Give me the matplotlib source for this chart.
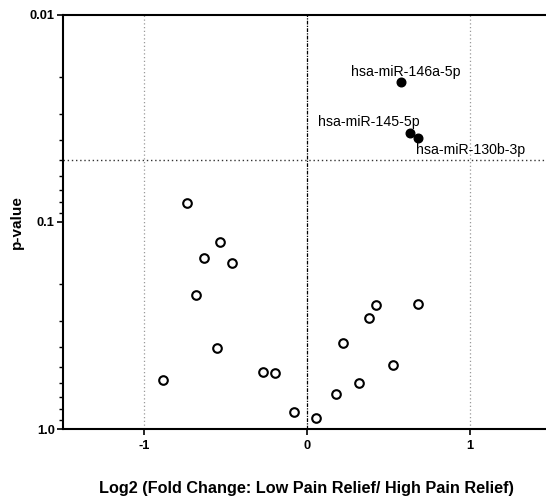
import matplotlib
matplotlib.use('Agg')
from matplotlib import pyplot as plt
from matplotlib.ticker import FixedLocator, NullFormatter
import numpy as np

plt.rcParams['font.family'] = ['Liberation Sans', 'DejaVu Sans']

# significant miRNAs (filled)
sig_names = ['hsa-miR-146a-5p', 'hsa-miR-145-5p', 'hsa-miR-130b-3p']
sig_fc = [0.58, 0.636, 0.685]
sig_p = [0.0211, 0.0372, 0.0394]

# non-significant miRNAs (open)
ns_fc = [-0.738, -0.533, -0.632, -0.460, -0.682, -0.555, -0.886, -0.269, -0.196,
         -0.077, 0.054, 0.176, 0.318, 0.224, 0.383, 0.422, 0.680, 0.531]
ns_p = [0.0812, 0.1256, 0.1496, 0.158, 0.224, 0.406, 0.581, 0.531, 0.535,
        0.830, 0.885, 0.679, 0.598, 0.385, 0.291, 0.253, 0.250, 0.493]

p_cut = 0.05
x_ticks = [-1, 0, 1]
y_ticks = [0.01, 0.1, 1.0]
y_tick_labels = ['0.01', '0.1', '1.0']

fig = plt.figure(figsize=(5.46, 4.99), dpi=100)
W, H = 546, 499
ax = fig.add_axes([63/W, (H-429)/H, (551-63)/W, (429-15)/H])

ax.set_yscale('log')
ax.set_xlim(-1.5, 1.5)
ax.set_ylim(1.0, 0.01)

# reference lines
ax.axvline(-1, color='#999999', lw=0.9, ls=(0, (1, 2)), zorder=1)
ax.axvline(1, color='#999999', lw=0.9, ls=(0, (1, 2)), zorder=1)
ax.axvline(0, color='black', lw=0.9, ls=(0, (3, 1, 1, 1)), zorder=1)
ax.axhline(p_cut, color='#333333', lw=1.0, ls=(0, (1, 2)), zorder=1)

ax.plot(ns_fc, ns_p, 'o', mfc='white', mec='black', mew=1.5, ms=6.2, ls='None', zorder=3)
ax.plot(sig_fc, sig_p, 'o', color='black', ms=6.2, ls='None', zorder=3)

# labels for significant points (offsets in pixels)
label_offsets = [(-50, 10), (-92, 11), (-2, -12)]
for name, fx, pv, off in zip(sig_names, sig_fc, sig_p, label_offsets):
    ax.annotate(name, (fx, pv), xytext=off, textcoords='offset pixels',
                fontsize=10.2, ha='left', va='center')

ax.xaxis.set_major_locator(FixedLocator(x_ticks))
ax.set_xticklabels([str(t) for t in x_ticks], fontweight='bold', fontsize=9.3)
ax.yaxis.set_major_locator(FixedLocator(y_ticks))
ax.set_yticklabels(y_tick_labels, fontweight='bold', fontsize=9.3)
minor = [m * d for d in [0.01, 0.1] for m in range(2, 10)]
ax.yaxis.set_minor_locator(FixedLocator(minor))
ax.yaxis.set_minor_formatter(NullFormatter())

ax.tick_params(axis='both', which='major', length=4, width=1.2, direction='out')
ax.tick_params(axis='y', which='major', pad=2)
ax.tick_params(axis='y', which='minor', length=3, width=1.0)
ax.tick_params(axis='x', which='major', pad=4)

for s in ['left', 'bottom', 'top', 'right']:
    ax.spines[s].set_linewidth(1.5)

fig.text(306/W, 1 - 489/H, 'Log2 (Fold Change: Low Pain Relief/ High Pain Relief)',
         fontweight='bold', fontsize=11.7, ha='center', va='center')
fig.text(17/W, 1 - 222/H, 'p-value', fontweight='bold', fontsize=11,
         rotation=90, ha='center', va='center')

fig.savefig('out.png', dpi=100)
